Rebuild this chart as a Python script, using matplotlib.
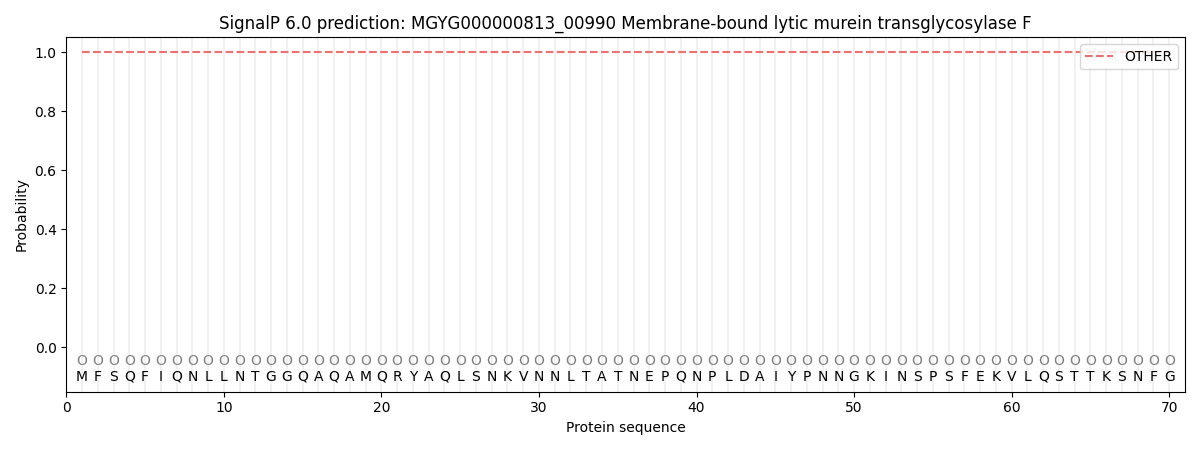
import matplotlib
matplotlib.use("Agg")
import matplotlib.pyplot as plt
import numpy as np

sequence = "MFSQFIQNLLNTGGQAQAMQRYAQLSNKVNNLTATNEPQNPLDAIYPNNGKINSPSFEKVLQSTTKSNFG"
labels = ["O"] * len(sequence)
positions = np.arange(1, len(sequence) + 1)
prob_other = [1.0] * len(sequence)

fig, ax = plt.subplots(figsize=(12, 4.5), dpi=100)

for p in positions:
    ax.axvline(p, color="#e8e8e8", linewidth=1.2, alpha=0.7, zorder=0)

ax.plot(positions, prob_other, linestyle="--", color="#f07070", linewidth=1.5, label="OTHER")

for p, aa, lab in zip(positions, sequence, labels):
    ax.text(p, -0.1, aa, ha="center", va="center", fontsize=10)
    ax.text(p, -0.045, lab, ha="center", va="center", fontsize=10, color="grey")

ax.set_xlim(0, 71)
ax.set_ylim(-0.15, 1.05)
ax.set_xlabel("Protein sequence")
ax.set_ylabel("Probability")
ax.set_title("SignalP 6.0 prediction: MGYG000000813_00990 Membrane-bound lytic murein transglycosylase F")
ax.legend(loc="upper right")

plt.tight_layout()
plt.savefig("out.png")
